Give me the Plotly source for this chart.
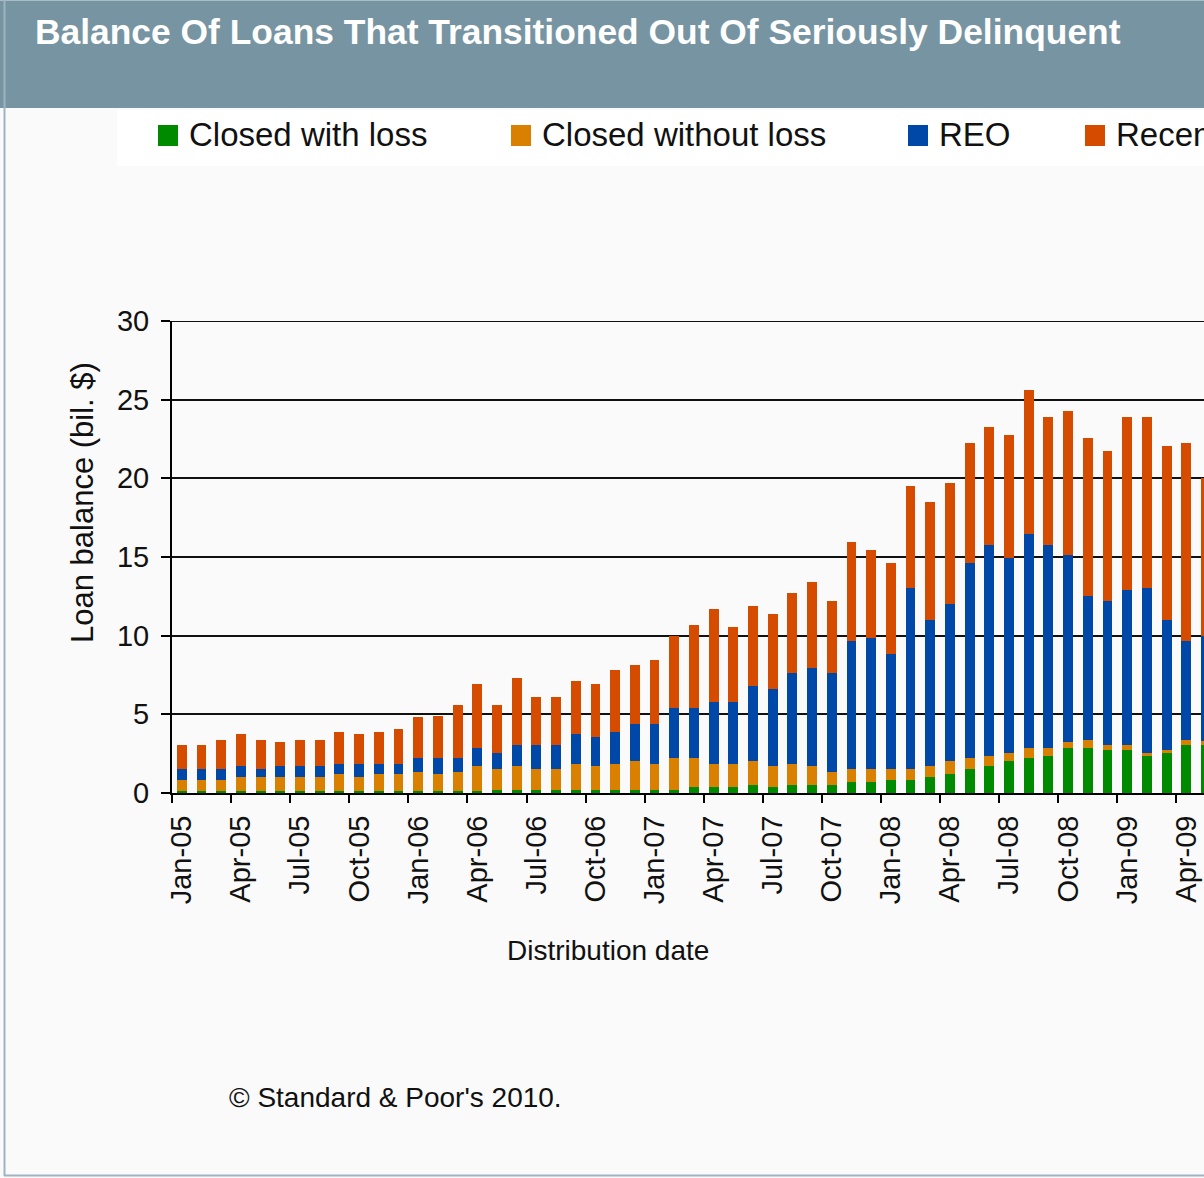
import plotly.graph_objects as go

# ---------------- data (billions of dollars) ----------------
months = [
    "Jan-05", "Feb-05", "Mar-05", "Apr-05", "May-05", "Jun-05", "Jul-05", "Aug-05", "Sep-05", "Oct-05", "Nov-05", "Dec-05",
    "Jan-06", "Feb-06", "Mar-06", "Apr-06", "May-06", "Jun-06", "Jul-06", "Aug-06", "Sep-06", "Oct-06", "Nov-06", "Dec-06",
    "Jan-07", "Feb-07", "Mar-07", "Apr-07", "May-07", "Jun-07", "Jul-07", "Aug-07", "Sep-07", "Oct-07", "Nov-07", "Dec-07",
    "Jan-08", "Feb-08", "Mar-08", "Apr-08", "May-08", "Jun-08", "Jul-08", "Aug-08", "Sep-08", "Oct-08", "Nov-08", "Dec-08",
    "Jan-09", "Feb-09", "Mar-09", "Apr-09", "May-09",
]

tick_labels = [
    "Jan-05", "Apr-05", "Jul-05", "Oct-05",
    "Jan-06", "Apr-06", "Jul-06", "Oct-06",
    "Jan-07", "Apr-07", "Jul-07", "Oct-07",
    "Jan-08", "Apr-08", "Jul-08", "Oct-08",
    "Jan-09", "Apr-09",
]

y_ticks = [0, 5, 10, 15, 20, 25, 30]

closed_with_loss = [
    0.15, 0.15, 0.15, 0.15, 0.15, 0.15, 0.15, 0.15, 0.15, 0.15, 0.15, 0.15,
    0.15, 0.15, 0.15, 0.15, 0.18, 0.18, 0.18, 0.18, 0.18, 0.18, 0.18, 0.18,
    0.20, 0.20, 0.36, 0.36, 0.36, 0.53, 0.36, 0.53, 0.53, 0.53, 0.68, 0.68,
    0.85, 0.85, 1.02, 1.18, 1.53, 1.69, 2.04, 2.20, 2.37, 2.88, 2.88, 2.71,
    2.71, 2.37, 2.54, 3.05, 3.05,
]

closed_without_loss = [
    0.70, 0.70, 0.70, 0.87, 0.87, 0.87, 0.87, 0.87, 1.03, 0.87, 1.03, 1.03,
    1.20, 1.03, 1.20, 1.54, 1.35, 1.51, 1.35, 1.35, 1.68, 1.51, 1.68, 1.86,
    1.66, 2.00, 1.84, 1.50, 1.50, 1.51, 1.33, 1.33, 1.16, 0.82, 0.85, 0.85,
    0.68, 0.68, 0.67, 0.86, 0.67, 0.68, 0.50, 0.68, 0.51, 0.34, 0.51, 0.34,
    0.34, 0.17, 0.17, 0.34, 0.25,
]

reo = [
    0.68, 0.68, 0.68, 0.67, 0.51, 0.67, 0.67, 0.67, 0.68, 0.84, 0.68, 0.68,
    0.85, 1.02, 0.85, 1.19, 1.01, 1.36, 1.52, 1.52, 1.87, 1.87, 2.04, 2.37,
    2.55, 3.23, 3.23, 3.90, 3.90, 4.74, 4.92, 5.77, 6.28, 6.28, 8.16, 8.30,
    7.29, 11.53, 9.33, 10.00, 12.39, 13.40, 12.38, 13.57, 12.89, 11.88, 9.16, 9.16,
    9.84, 10.52, 8.31, 6.28, 6.71,
]

recently_modified = [
    1.52, 1.52, 1.86, 2.04, 1.86, 1.53, 1.70, 1.70, 2.04, 1.87, 2.04, 2.21,
    2.61, 2.72, 3.40, 4.07, 3.06, 4.24, 3.06, 3.06, 3.39, 3.39, 3.90, 3.73,
    4.07, 4.58, 5.26, 5.94, 4.76, 5.09, 4.75, 5.09, 5.43, 4.58, 6.25, 5.60,
    5.77, 6.44, 7.47, 7.64, 7.63, 7.47, 7.81, 9.16, 8.15, 9.16, 10.01, 9.50,
    11.03, 10.86, 11.03, 12.55, 10.00,
]

series_names = ["Closed with loss", "Closed without loss", "REO", "Recently modified"]
series_values = [closed_with_loss, closed_without_loss, reo, recently_modified]
series_colors = ["#008a00", "#d98000", "#0048a8", "#d54b00"]

# ---------------- page geometry (pixels) ----------------
W, H = 1204, 1178
PL, PR, PT, PB = 172, 1204, 321, 793
FONT = "Liberation Sans, Arial, Helvetica, sans-serif"
INK = "#111111"


def fx(x):
    return (x - PL) / (PR - PL)


def fy(y):
    return (PB - y) / (PB - PT)


fig = go.Figure()
for name, vals, col in zip(series_names, series_values, series_colors):
    fig.add_trace(go.Bar(
        x=months, y=vals, name=name, width=0.5,
        marker=dict(color=col, line=dict(width=0)),
        showlegend=False,
    ))

# empty trace so the boundary-tick axis gets its own subplot layer
fig.add_trace(go.Scatter(x=[], y=[], xaxis="x2", yaxis="y", showlegend=False, hoverinfo="skip"))

x_range = [-0.5, 51.9]

shapes = [
    # header band
    dict(type="rect", xref="paper", yref="paper", x0=fx(0), x1=fx(W), y0=fy(108), y1=fy(0),
         fillcolor="#7794a2", line=dict(width=0), layer="below"),
    dict(type="line", xref="paper", yref="paper", x0=fx(0), x1=fx(W), y0=fy(0.5), y1=fy(0.5),
         line=dict(color="#a9bcc7", width=1), layer="below"),
    # legend panel
    dict(type="rect", xref="paper", yref="paper", x0=fx(117), x1=fx(W), y0=fy(166), y1=fy(110),
         fillcolor="#ffffff", line=dict(width=0), layer="below"),
    # frame lines
    dict(type="line", xref="paper", yref="paper", x0=fx(4.5), x1=fx(4.5), y0=fy(1176), y1=fy(0),
         line=dict(color="#9fb3c0", width=2), layer="below"),
    dict(type="line", xref="paper", yref="paper", x0=fx(4), x1=fx(W), y0=fy(1175.5), y1=fy(1175.5),
         line=dict(color="#9fb3c0", width=2), layer="below"),
    # top gridline at the axis maximum
    dict(type="line", xref="paper", yref="y", x0=0, x1=1, y0=y_ticks[-1], y1=y_ticks[-1],
         line=dict(color="#111111", width=2), layer="below"),
]

annotations = [
    dict(text="<b>Balance Of Loans That Transitioned Out Of Seriously Delinquent</b>",
         xref="paper", yref="paper", x=fx(33), y=fy(32), xanchor="left", yanchor="middle",
         showarrow=False, font=dict(family=FONT, size=35.4, color="#ffffff")),
    dict(text="Loan balance (bil. $)", textangle=-90,
         xref="paper", yref="paper", x=fx(82), y=fy(503), xanchor="center", yanchor="middle",
         showarrow=False, font=dict(family=FONT, size=31, color=INK)),
    dict(text="Distribution date",
         xref="paper", yref="paper", x=fx(608), y=fy(950), xanchor="center", yanchor="middle",
         showarrow=False, font=dict(family=FONT, size=28, color=INK)),
    dict(text="© Standard &amp; Poor's 2010.",
         xref="paper", yref="paper", x=fx(227), y=fy(1097), xanchor="left", yanchor="middle",
         showarrow=False, font=dict(family=FONT, size=28, color=INK)),
]

# legend row: swatch + label for each series
legend_x = [158, 511, 908, 1085]
for name, col, lx in zip(series_names, series_colors, legend_x):
    shapes.append(dict(type="rect", xref="paper", yref="paper",
                       x0=fx(lx), x1=fx(lx + 20), y0=fy(146), y1=fy(125),
                       fillcolor=col, line=dict(width=0)))
    annotations.append(dict(text=name, xref="paper", yref="paper",
                            x=fx(lx + 29), y=fy(135), xanchor="left", yanchor="middle",
                            showarrow=False, font=dict(family=FONT, size=33, color=INK)))

fig.update_layout(
    width=W, height=H,
    margin=dict(l=PL, r=W - PR, t=PT, b=H - PB, pad=0),
    paper_bgcolor="#fafafa", plot_bgcolor="#fafafa",
    barmode="stack", bargap=0.5,
    font=dict(family=FONT, color=INK),
    shapes=shapes, annotations=annotations,
    xaxis=dict(
        type="category", range=x_range,
        tickmode="array", tickvals=tick_labels, ticktext=tick_labels,
        tickangle=-90, ticks="outside", ticklen=9, tickcolor="rgba(0,0,0,0)",
        tickfont=dict(family=FONT, size=29, color=INK),
        showline=True, linecolor="#000000", linewidth=2,
        showgrid=False, zeroline=False, fixedrange=True,
    ),
    xaxis2=dict(
        overlaying="x", anchor="y", side="bottom", type="linear", range=x_range,
        tickmode="array", tickvals=[i - 0.5 for i in range(0, len(months), 3)],
        ticks="outside", ticklen=9, tickwidth=2, tickcolor="#000000",
        showticklabels=False, showgrid=False, zeroline=False, showline=False,
    ),
    yaxis=dict(
        range=[y_ticks[0], y_ticks[-1]], tickmode="array", tickvals=y_ticks,
        ticks="outside", ticklen=9, tickwidth=2, tickcolor="#000000",
        tickfont=dict(family=FONT, size=29, color=INK), ticklabelstandoff=6,
        showline=True, linecolor="#000000", linewidth=2,
        showgrid=True, gridcolor="#111111", gridwidth=2, zeroline=False,
    ),
)

fig.write_html("out.html")
